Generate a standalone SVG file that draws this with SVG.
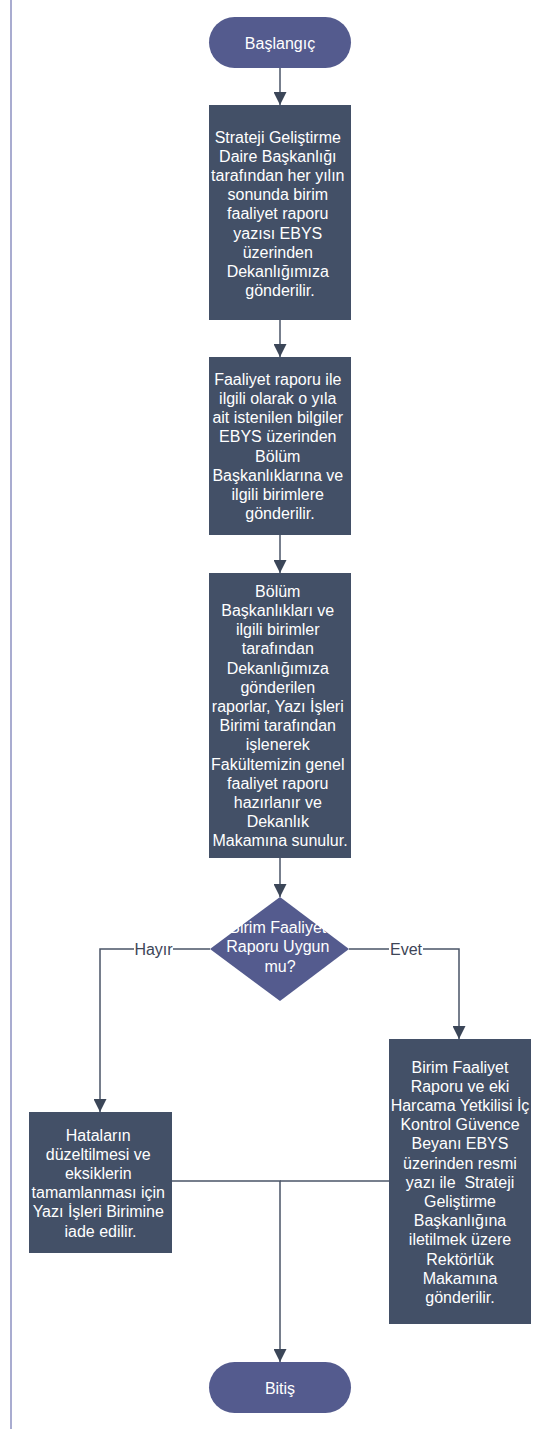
<svg xmlns="http://www.w3.org/2000/svg" width="539" height="1429" viewBox="0 0 539 1429">
<style>
.t{font-family:"Liberation Sans",Arial,sans-serif;font-size:16px;fill:#ffffff;text-anchor:middle;dominant-baseline:central}
.term{fill:#545b8e}
.box{fill:#435067}
.dec{fill:#545b8e}
.c{fill:none;stroke:#4a5467;stroke-width:1.5}
.lbl{font-family:"Liberation Sans",Arial,sans-serif;font-size:16px;fill:#3d4557;text-anchor:middle;dominant-baseline:central}
.lblbg{fill:#ffffff}
</style>
<defs>
<marker id="arr" markerUnits="userSpaceOnUse" markerWidth="13" markerHeight="13" viewBox="0 0 13 13" refX="13" refY="6.5" orient="auto">
<path d="M0,0 L13,6.5 L0,13 z" fill="#3b4658"/>
</marker>
</defs>
<rect width="539" height="1429" fill="#ffffff"/>
<line x1="11" y1="0" x2="11" y2="1429" stroke="#8c90c0" stroke-width="1.5"/>

<g id="connectors">
<path class="c" d="M280,68 V105" marker-end="url(#arr)"/>
<path class="c" d="M280,320 V357" marker-end="url(#arr)"/>
<path class="c" d="M280,535 V573" marker-end="url(#arr)"/>
<path class="c" d="M280,858 V897" marker-end="url(#arr)"/>
<path class="c" d="M210,949 H100 V1112" marker-end="url(#arr)"/>
<path class="c" d="M349,949 H459 V1039" marker-end="url(#arr)"/>
<path class="c" d="M172,1181 H280 V1362" marker-end="url(#arr)"/>
<path class="c" d="M389,1181 H280"/>
<rect class="lblbg" x="134" y="940" width="39" height="18"/>
<text class="lbl" x="153.5" y="949">Hayır</text>
<rect class="lblbg" x="389" y="940" width="34" height="18"/>
<text class="lbl" x="406" y="949">Evet</text>
</g>

<g id="start">
<rect class="term" x="209" y="17" width="142" height="51" rx="25.5"/>
<text class="t" x="280" y="43">Başlangıç</text>
</g>

<g id="box1">
<rect class="box" x="209" y="105" width="142" height="215"/>
<text class="t" x="280">
<tspan x="280" y="136.5">Strateji Geliştirme</tspan>
<tspan x="280" y="155.7">Daire Başkanlığı</tspan>
<tspan x="280" y="174.9">tarafından her yılın</tspan>
<tspan x="280" y="194.1">sonunda birim</tspan>
<tspan x="280" y="213.3">faaliyet raporu</tspan>
<tspan x="280" y="232.5">yazısı EBYS</tspan>
<tspan x="280" y="251.7">üzerinden</tspan>
<tspan x="280" y="270.9">Dekanlığımıza</tspan>
<tspan x="280" y="290.1">gönderilir.</tspan>
</text>
</g>

<g id="box2">
<rect class="box" x="209" y="357" width="142" height="178"/>
<text class="t" x="280">
<tspan x="280" y="378.8">Faaliyet raporu ile</tspan>
<tspan x="280" y="398">ilgili olarak o yıla</tspan>
<tspan x="280" y="417.2">ait istenilen bilgiler</tspan>
<tspan x="280" y="436.4">EBYS üzerinden</tspan>
<tspan x="280" y="455.6">Bölüm</tspan>
<tspan x="280" y="474.8">Başkanlıklarına ve</tspan>
<tspan x="280" y="494">ilgili birimlere</tspan>
<tspan x="280" y="513.2">gönderilir.</tspan>
</text>
</g>

<g id="box3">
<rect class="box" x="209" y="573" width="142" height="285"/>
<text class="t" x="280">
<tspan x="280" y="590.7">Bölüm</tspan>
<tspan x="280" y="609.9">Başkanlıkları ve</tspan>
<tspan x="280" y="629.1">ilgili birimler</tspan>
<tspan x="280" y="648.3">tarafından</tspan>
<tspan x="280" y="667.5">Dekanlığımıza</tspan>
<tspan x="280" y="686.7">gönderilen</tspan>
<tspan x="280" y="705.9">raporlar, Yazı İşleri</tspan>
<tspan x="280" y="725.1">Birimi tarafından</tspan>
<tspan x="280" y="744.3">işlenerek</tspan>
<tspan x="280" y="763.5">Fakültemizin genel</tspan>
<tspan x="280" y="782.7">faaliyet raporu</tspan>
<tspan x="280" y="801.9">hazırlanır ve</tspan>
<tspan x="280" y="821.1">Dekanlık</tspan>
<tspan x="280" y="840.3">Makamına sunulur.</tspan>
</text>
</g>

<g id="decision">
<polygon class="dec" points="280,897 349,949 280,1001 210,949"/>
<text class="t" x="280">
<tspan x="280" y="926.5">Birim Faaliyet</tspan>
<tspan x="280" y="946">Raporu Uygun</tspan>
<tspan x="280" y="965.5">mu?</tspan>
</text>
</g>

<g id="boxNo">
<rect class="box" x="29" y="1112" width="143" height="141"/>
<text class="t" x="100.5">
<tspan x="100.5" y="1134.5">Hataların</tspan>
<tspan x="100.5" y="1153.7">düzeltilmesi ve</tspan>
<tspan x="100.5" y="1172.9">eksiklerin</tspan>
<tspan x="100.5" y="1192.1">tamamlanması için</tspan>
<tspan x="100.5" y="1211.3">Yazı İşleri Birimine</tspan>
<tspan x="100.5" y="1230.5">iade edilir.</tspan>
</text>
</g>

<g id="boxYes">
<rect class="box" x="389" y="1039" width="142" height="285"/>
<text class="t" x="460" xml:space="preserve"><tspan x="460" y="1066.5">Birim Faaliyet</tspan><tspan x="460" y="1085.7">Raporu ve eki</tspan><tspan x="460" y="1104.9">Harcama Yetkilisi İç</tspan><tspan x="460" y="1124.1">Kontrol Güvence</tspan><tspan x="460" y="1143.3">Beyanı EBYS</tspan><tspan x="460" y="1162.5">üzerinden resmi</tspan><tspan x="460" y="1181.7">yazı ile  Strateji</tspan><tspan x="460" y="1200.9">Geliştirme</tspan><tspan x="460" y="1220.1">Başkanlığına</tspan><tspan x="460" y="1239.3">iletilmek üzere</tspan><tspan x="460" y="1258.5">Rektörlük</tspan><tspan x="460" y="1277.7">Makamına</tspan><tspan x="460" y="1296.9">gönderilir.</tspan></text>
</g>

<g id="end">
<rect class="term" x="209" y="1362" width="142" height="51" rx="25.5"/>
<text class="t" x="280" y="1388">Bitiş</text>
</g>
</svg>
